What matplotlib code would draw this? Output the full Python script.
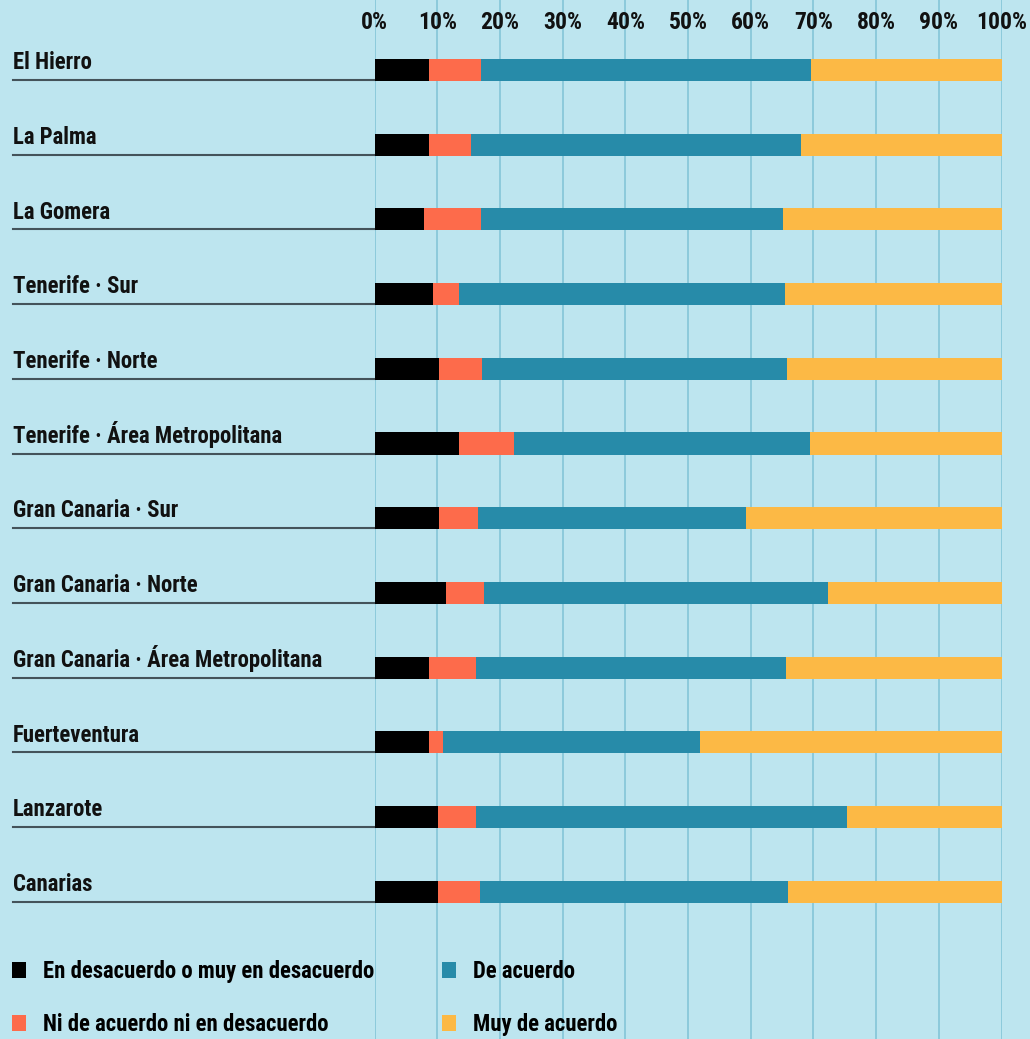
import matplotlib
matplotlib.use("Agg")
import matplotlib.pyplot as plt
from matplotlib.patches import Patch
from matplotlib.transforms import blended_transform_factory
import numpy as np

regions = ["El Hierro", "La Palma", "La Gomera", "Tenerife · Sur", "Tenerife · Norte",
           "Tenerife · Área Metropolitana", "Gran Canaria · Sur", "Gran Canaria · Norte",
           "Gran Canaria · Área Metropolitana", "Fuerteventura", "Lanzarote", "Canarias"]

desacuerdo = [8.7, 8.7, 7.9, 9.3, 10.3, 13.5, 10.3, 11.4, 8.7, 8.7, 10.1, 10.1]
ni_ni = [8.3, 6.7, 9.1, 4.2, 6.8, 8.7, 6.2, 6.1, 7.5, 2.2, 6.1, 6.7]
de_acuerdo = [52.6, 52.6, 48.2, 52.0, 48.7, 47.2, 42.7, 54.8, 49.4, 41.0, 59.2, 49.2]
muy_de_acuerdo = [30.4, 32.0, 34.8, 34.5, 34.2, 30.6, 40.8, 27.7, 34.4, 48.1, 24.6, 34.0]

series_labels = ["En desacuerdo o muy en desacuerdo", "Ni de acuerdo ni en desacuerdo",
                 "De acuerdo", "Muy de acuerdo"]
colors = ["#000000", "#fd6b4b", "#278ba9", "#fcb945"]
ticks = list(range(0, 101, 10))

plt.rcParams['font.family'] = ['Roboto Condensed', 'Liberation Sans Narrow', 'DejaVu Sans']
bg = "#bde5ef"
fs = 16.4

fig = plt.figure(figsize=(10.30, 10.39), dpi=100, facecolor=bg)
# axes spans the full height, x from 0% to 100% of the bars
ax = fig.add_axes([374.5 / 1030, 0, 627 / 1030, 1])
ax.set_facecolor(bg)

n = len(regions)
y = np.arange(n)
left = np.zeros(n)
for vals, c in zip([desacuerdo, ni_ni, de_acuerdo, muy_de_acuerdo], colors):
    ax.barh(y, vals, left=left, height=0.295, color=c, zorder=3)
    left += np.array(vals)

ax.set_xlim(0, 100)
# row 0 centred ~70px from top, 74.7px between rows
ax.set_ylim((1039 - 70) / 74.7, -70 / 74.7)
for t in ticks:
    ax.axvline(t, color="#8ccadb", lw=1.4, zorder=1)
    ax.text(t, -0.64, f"{t}%", ha="center", va="center", fontsize=17,
            fontweight="bold", color="#111111")
ax.set_xticks([])
ax.set_yticks([])
for s in ax.spines.values():
    s.set_visible(False)

tr = blended_transform_factory(fig.transFigure, ax.transData)
for i, name in enumerate(regions):
    ax.text(13 / 1030, i - 0.01, name, transform=tr, ha="left", va="baseline",
            fontsize=fs, fontweight="bold", color="#111111")
    ax.plot([13 / 1030, 375 / 1030], [i + 0.135, i + 0.135], transform=tr,
            color="#44535a", lw=1.5, clip_on=False, zorder=2)

handles = [Patch(facecolor=c, edgecolor="none") for c in colors]
fig.legend(handles, series_labels, ncol=2, loc="lower left",
           bbox_to_anchor=(12 / 1030, 0.003), frameon=False,
           borderpad=0, borderaxespad=0,
           handlelength=0.62, handleheight=0.7, handletextpad=0.72,
           columnspacing=3.0, labelspacing=1.32,
           prop={"weight": "bold", "size": fs})

fig.savefig("out.png", dpi=100, facecolor=bg)
